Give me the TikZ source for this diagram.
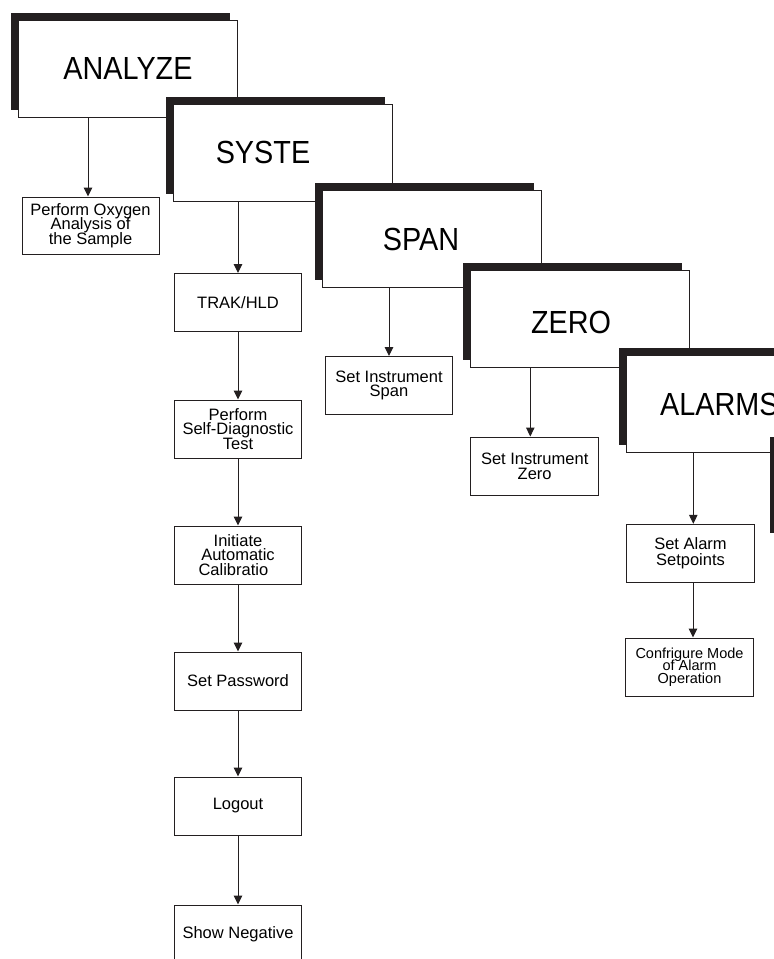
\documentclass[tikz,border=0pt]{standalone}
\usepackage{fontspec}
\setmainfont{Liberation Sans}
\newfontfamily\menufont[FakeStretch=0.9]{Liberation Sans}
\usepackage{tikz}
\usetikzlibrary{arrows.meta,shadows}
\definecolor{ink}{RGB}{35,31,32}
\newcommand\tasklines{\lineskiplimit=-50pt\relax}

\begin{document}
\begin{tikzpicture}[x=1pt,y=-1pt,>={Triangle[length=9pt,width=8.5pt]}]
	\tikzset{menu/.style={draw=ink,fill=white,line width=1pt,minimum width=219pt,minimum height=97pt,inner sep=0pt,
			drop shadow={shadow xshift=-7.5pt,shadow yshift=7.5pt,fill=ink,opacity=1}},
		menutext/.style={inner sep=0pt,font=\menufont\fontsize{32}{36}\selectfont},
		task/.style={draw=ink,fill=white,line width=1pt,minimum width=127.5pt,minimum height=58pt,inner sep=0pt,
			align=center,font=\fontsize{16.5}{14.7}\selectfont\tasklines}}
	\useasboundingbox (0,0) rectangle (774,959);
	\clip (0,0) rectangle (774,959);

	%% menu boxes
	\node[menu] (analyze) at (127.5,68.5) {};
	\node[menutext] (analyze-t) at (128,68.5) {ANALYZE};
	\node[menu] (syste) at (282.5,152.5) {};
	\node[menutext] (syste-t) at (263,152.8) {SYSTE};
	\node[menu] (span) at (432,238.5) {};
	\node[menutext] (span-t) at (421,239) {SPAN};
	\node[menu] (zero) at (580,319) {};
	\node[menutext] (zero-t) at (571,322) {ZERO};
	\node[menu] (alarms) at (735.5,404) {};
	\node[menutext,anchor=west] (alarms-t) at (660,404) {ALARMS};
	% next menu, cut off at the edge
	\fill[ink] (770,437) rectangle (790,533);

	%% tasks
	\node[task,minimum width=137pt,minimum height=57pt] (oxygen) at (90.5,225.5) {Perform Oxygen\\Analysis of\\the Sample};
	\node[task] (trak) at (238,302.5) {TRAK/HLD};
	\node[task] (diag) at (238,429) {Perform\\Self-Diagnostic\\Test};
	\node[task] (autocal) at (238,555) {Initiate\\Automatic\\Calibratio\phantom{n}};
	\node[task] (passwd) at (238,681) {Set Password};
	\node[task] (logout) at (238,806) {Logout};
	\node[task] (negative) at (238,934) {Show Negative};
	\node[task] (setspan) at (389,385.5) {Set Instrument\\Span};
	\node[task] (setzero) at (534.7,466) {Set Instrument\\Zero};
	\node[task,font=\fontsize{16.5}{15.6}\selectfont\tasklines] (setpts) at (690.5,553.3) {Set Alarm\\Setpoints};
	\node[task,font=\fontsize{14.5}{12.5}\selectfont\tasklines] (almode) at (689.5,667) {Confrigure Mode\\of Alarm\\Operation};

	\coordinate (oxy-in) at ([xshift=-2.5pt]oxygen.north);
	\coordinate (zero-in) at ([xshift=-4.4pt]setzero.north);
	\coordinate (pts-in) at ([xshift=2.8pt]setpts.north);
	\coordinate (pts-out) at ([xshift=2.5pt]setpts.south);

	\path[->,color=ink,line width=1pt]
		(oxy-in |- analyze.south) edge (oxy-in)
		(trak.north |- syste.south) edge (trak.north)
		(trak) edge (diag)
		(diag) edge (autocal)
		(autocal) edge (passwd)
		(passwd) edge (logout)
		(logout) edge (negative)
		(setspan.north |- span.south) edge (setspan.north)
		(zero-in |- zero.south) edge (zero-in)
		(pts-in |- alarms.south) edge (pts-in)
		(pts-out) edge (pts-out |- almode.north);
\end{tikzpicture}
\end{document}
